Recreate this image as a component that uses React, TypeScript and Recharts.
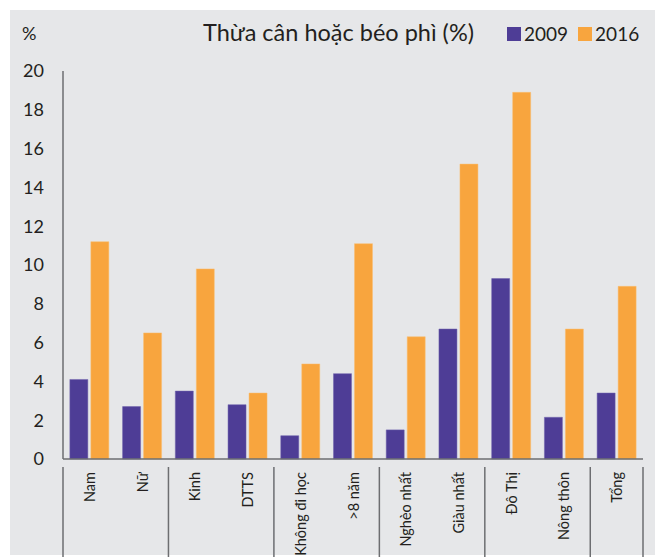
import { BarChart, Bar, XAxis, YAxis } from 'recharts'

// ── Thừa cân hoặc béo phì (%) — 2009 vs 2016 ────────────────────────────────

const categories = [
  'Nam', 'Nữ', 'Kinh', 'DTTS', 'Không đi học', '>8 năm',
  'Nghèo nhất', 'Giàu nhất', 'Đô Thị', 'Nông thôn', 'Tổng',
]
const values2009 = [4.1, 2.7, 3.5, 2.8, 1.2, 4.4, 1.5, 6.7, 9.3, 2.15, 3.4]
const values2016 = [11.2, 6.5, 9.8, 3.4, 4.9, 11.1, 6.3, 15.2, 18.9, 6.7, 8.9]
// categories that open a new group (a separator line is drawn at their left edge)
const groupStarts = ['Nam', 'Kinh', 'Không đi học', 'Nghèo nhất', 'Đô Thị', 'Tổng']
const yTicks = [0, 2, 4, 6, 8, 10, 12, 14, 16, 18, 20]
const legendItems = [{ label: '2009', color: '#4e3d96' }, { label: '2016', color: '#f8a53e' }]

const PURPLE = '#4e3d96'
const ORANGE = '#f8a53e'
const TEXT = '#231f20'
const AXIS = '#6d6e71'
const FONT = 'Lato, "Open Sans", sans-serif'

const data = categories.map((c, i) => ({ name: c, y2009: values2009[i], y2016: values2016[i] }))

function CategoryTick(props: any) {
  const { x, y, payload, index } = props
  const half = payload?.offset ?? 26.4
  const isStart = groupStarts.includes(payload.value)
  const isLast = index === categories.length - 1
  return (
    <g>
      {isStart && <line x1={x - half} y1={y} x2={x - half} y2={y + 93} stroke={AXIS} strokeWidth={1.5} />}
      {isLast && <line x1={x + half} y1={y} x2={x + half} y2={y + 93} stroke={AXIS} strokeWidth={1.5} />}
      <text x={x} y={y + 5} transform={`rotate(-90 ${x} ${y + 5})`} textAnchor="end"
            dominantBaseline="central" fill={TEXT} fontSize={14.5} fontFamily={FONT}>
        {payload.value}
      </text>
    </g>
  )
}

export default function App() {
  return (
    <div style={{ position: 'absolute', left: 0, top: 0, width: 657, height: 557, background: '#fff' }}>
      <div style={{ position: 'absolute', left: 10, top: 10, width: 645, height: 545, background: '#e6e7e9' }} />
      <div style={{ position: 'absolute', left: 0, top: 0 }}>
        <BarChart width={657} height={557} data={data} barGap={3} barCategoryGap="13%"
                  margin={{ top: 71, right: 14, left: 0, bottom: 0 }}>
          <YAxis domain={[0, 20]} ticks={yTicks} interval={0} width={63} tickLine={false} tickSize={0} tickMargin={19}
                 axisLine={{ stroke: AXIS, strokeWidth: 1.5 }}
                 tick={{ fill: TEXT, fontSize: 18, fontFamily: FONT }} />
          <XAxis dataKey="name" interval={0} height={98} tickLine={false}
                 axisLine={{ stroke: AXIS, strokeWidth: 1.5 }} tick={<CategoryTick />} />
          <Bar dataKey="y2009" name="2009" fill={PURPLE} stroke="#6f63ad" strokeWidth={0.5} isAnimationActive={false} />
          <Bar dataKey="y2016" name="2016" fill={ORANGE} stroke="#fbbf70" strokeWidth={0.5} isAnimationActive={false} />
        </BarChart>
      </div>
      <div style={{ position: 'absolute', left: 22, top: 22, fontFamily: FONT, fontSize: 18, color: TEXT }}>%</div>
      <div style={{ position: 'absolute', left: 203, top: 18, fontFamily: FONT, fontSize: 23.5, color: TEXT,
                    whiteSpace: 'nowrap' }}>
        Thừa cân hoặc béo phì (%)
      </div>
      <div style={{ position: 'absolute', left: 507, top: 22, display: 'flex', alignItems: 'center',
                    fontFamily: FONT, fontSize: 19, color: TEXT }}>
        {legendItems.map((it, i) => (
          <div key={it.label} style={{ display: 'flex', alignItems: 'center', marginLeft: i ? 10 : 0 }}>
            <span style={{ width: 14, height: 14, background: it.color, display: 'inline-block', marginRight: 3 }} />
            <span>{it.label}</span>
          </div>
        ))}
      </div>
    </div>
  )
}
